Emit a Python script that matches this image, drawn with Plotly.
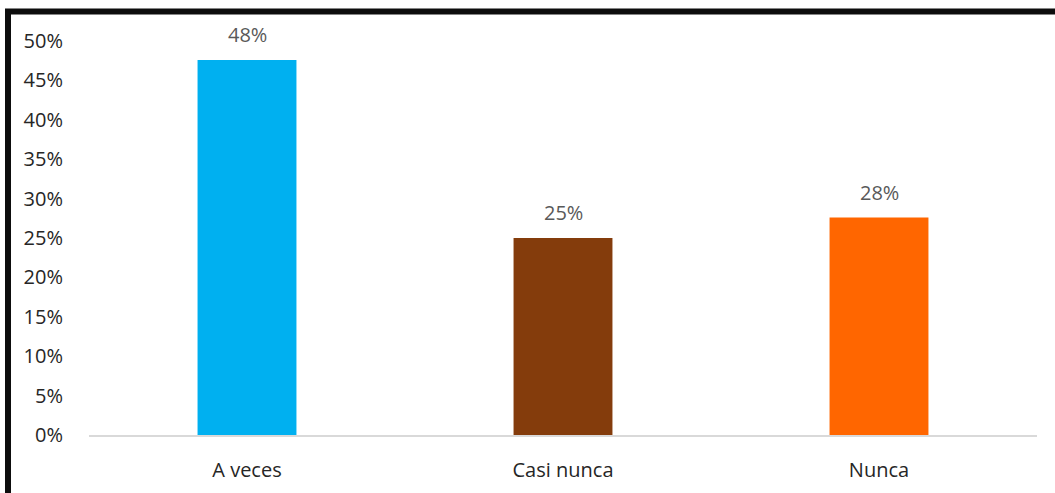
import plotly.graph_objects as go

categories = ["A veces", "Casi nunca", "Nunca"]
values = [0.476, 0.25, 0.276]
colors = ["#00B0F0", "#843C0C", "#FF6600"]
y_ticks = [0, 0.05, 0.10, 0.15, 0.20, 0.25, 0.30, 0.35, 0.40, 0.45, 0.50]

W, H = 1055, 493
L, R, T, B = 89, 18, 41, 58
pw, ph = W - L - R, H - T - B
FONT = "Open Sans, Liberation Sans, sans-serif"

fig = go.Figure(
    go.Bar(
        x=categories,
        y=values,
        marker=dict(color=colors, line=dict(width=0)),
        width=0.313,
        hoverinfo="skip",
    )
)

# value labels above each bar
for c, v in zip(categories, values):
    fig.add_annotation(
        x=c, y=v, text=f"{round(v * 100)}%", showarrow=False,
        yanchor="bottom", yshift=10,
        font=dict(family=FONT, size=20, color="#595959"),
    )

# frame lines (top and left)
def px_x(p):
    return (p - L) / pw

def px_y(p):
    return (H - B - p) / ph

fig.add_shape(type="line", xref="paper", yref="paper",
              x0=px_x(5), x1=px_x(1060), y0=px_y(11.5), y1=px_y(11.5),
              line=dict(color="#0d0d0d", width=6))
fig.add_shape(type="line", xref="paper", yref="paper",
              x0=px_x(8), x1=px_x(8), y0=px_y(9), y1=px_y(500),
              line=dict(color="#0d0d0d", width=6))

fig.update_layout(
    width=W, height=H,
    margin=dict(l=L, r=R, t=T, b=B),
    paper_bgcolor="white", plot_bgcolor="white",
    showlegend=False,
    font=dict(family=FONT, size=20, color="#262626"),
    bargap=0.687,
)
fig.update_xaxes(
    automargin=False,
    showgrid=False, showline=True, linecolor="#d9d9d9", linewidth=2,
    ticks="outside", ticklen=16, tickcolor="rgba(0,0,0,0)",
    tickfont=dict(size=20, color="#262626"),
)
fig.update_yaxes(
    automargin=False,
    range=[0, 0.5], tickvals=y_ticks, tickformat=".0%",
    showgrid=False, zeroline=False, showline=False,
    ticks="outside", ticklen=21, tickcolor="rgba(0,0,0,0)",
    tickfont=dict(size=20, color="#262626"),
)

fig.write_html("out.html")
